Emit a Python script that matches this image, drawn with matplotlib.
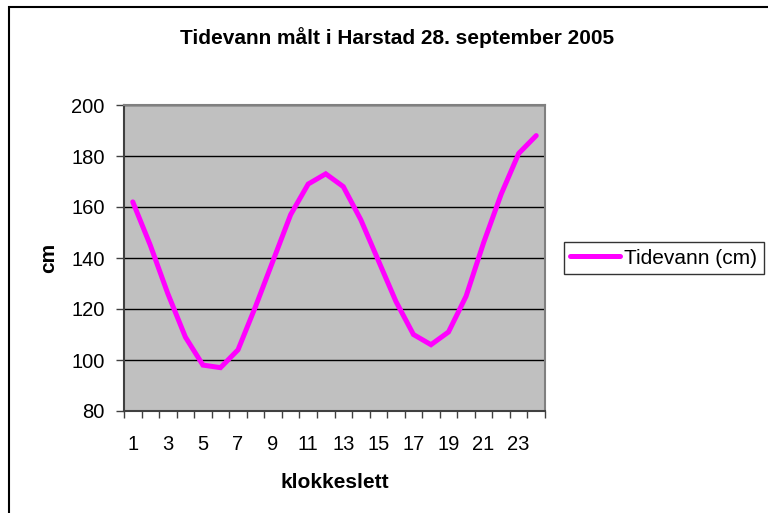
import numpy as np
import matplotlib.pyplot as plt
from matplotlib.patches import Rectangle

plt.rcParams['font.family'] = ['Liberation Sans', 'DejaVu Sans']

# data
timer = list(range(1, 25))
tidevann = [162, 145, 126, 109, 98, 97, 104, 121, 139, 157, 169, 173,
            168, 155, 139, 123, 110, 106, 111, 125, 146, 165, 181, 188]
yticks = [80, 100, 120, 140, 160, 180, 200]

fig = plt.figure(figsize=(7.68, 5.13), dpi=100)
# chart area border (runs off right and bottom)
fig.patches.append(Rectangle((9/768, -0.05), 1.2, 1 - 7/513 + 0.05,
                             transform=fig.transFigure, fill=False,
                             edgecolor='black', linewidth=1.5))

ax = fig.add_axes([124/768, 1 - 411/513, 421/768, 306/513], facecolor='#c0c0c0')
ax.plot(timer, tidevann, color='#ff00ff', linewidth=3.6, label='Tidevann (cm)',
        solid_joinstyle='miter', solid_capstyle='round')

ax.set_xlim(0.5, 24.5)
ax.set_ylim(80, 200)
ax.set_yticks(yticks)
ax.yaxis.grid(True, color='black', linewidth=1)
ax.set_axisbelow(True)

ax.set_xticks(np.arange(0.5, 25, 1))
ax.set_xticklabels([])
ax.set_xticks(timer[::2], minor=True)
ax.set_xticklabels([str(t) for t in timer[::2]], minor=True)
ax.tick_params(axis='x', which='major', direction='out', length=5, width=1, color='#404040')
ax.tick_params(axis='x', which='minor', length=0, labelsize=14.5, pad=17)
ax.tick_params(axis='y', direction='out', length=6, width=1, color='#404040', labelsize=14.5, pad=8)

for s in ['top', 'right']:
    ax.spines[s].set_color('#808080')
    ax.spines[s].set_linewidth(1.5)
for s in ['left', 'bottom']:
    ax.spines[s].set_color('#404040')
    ax.spines[s].set_linewidth(1.5)

ax.set_xlabel('klokkeslett', fontsize=15, fontweight='bold', labelpad=14)
ax.set_ylabel('cm', fontsize=15, fontweight='bold', labelpad=9)
fig.text(397/768, 1 - 38/513, 'Tidevann målt i Harstad 28. september 2005',
         ha='center', va='center', fontsize=15, fontweight='bold')

leg = fig.legend(loc='center left', bbox_to_anchor=(564/768, 1 - 258/513),
                 fontsize=15, frameon=True, fancybox=False, handlelength=2.4,
                 handletextpad=0.2, borderpad=0.3, borderaxespad=0)
leg.get_frame().set_edgecolor('black')
leg.get_frame().set_linewidth(1)

fig.savefig('out.png', dpi=100)
